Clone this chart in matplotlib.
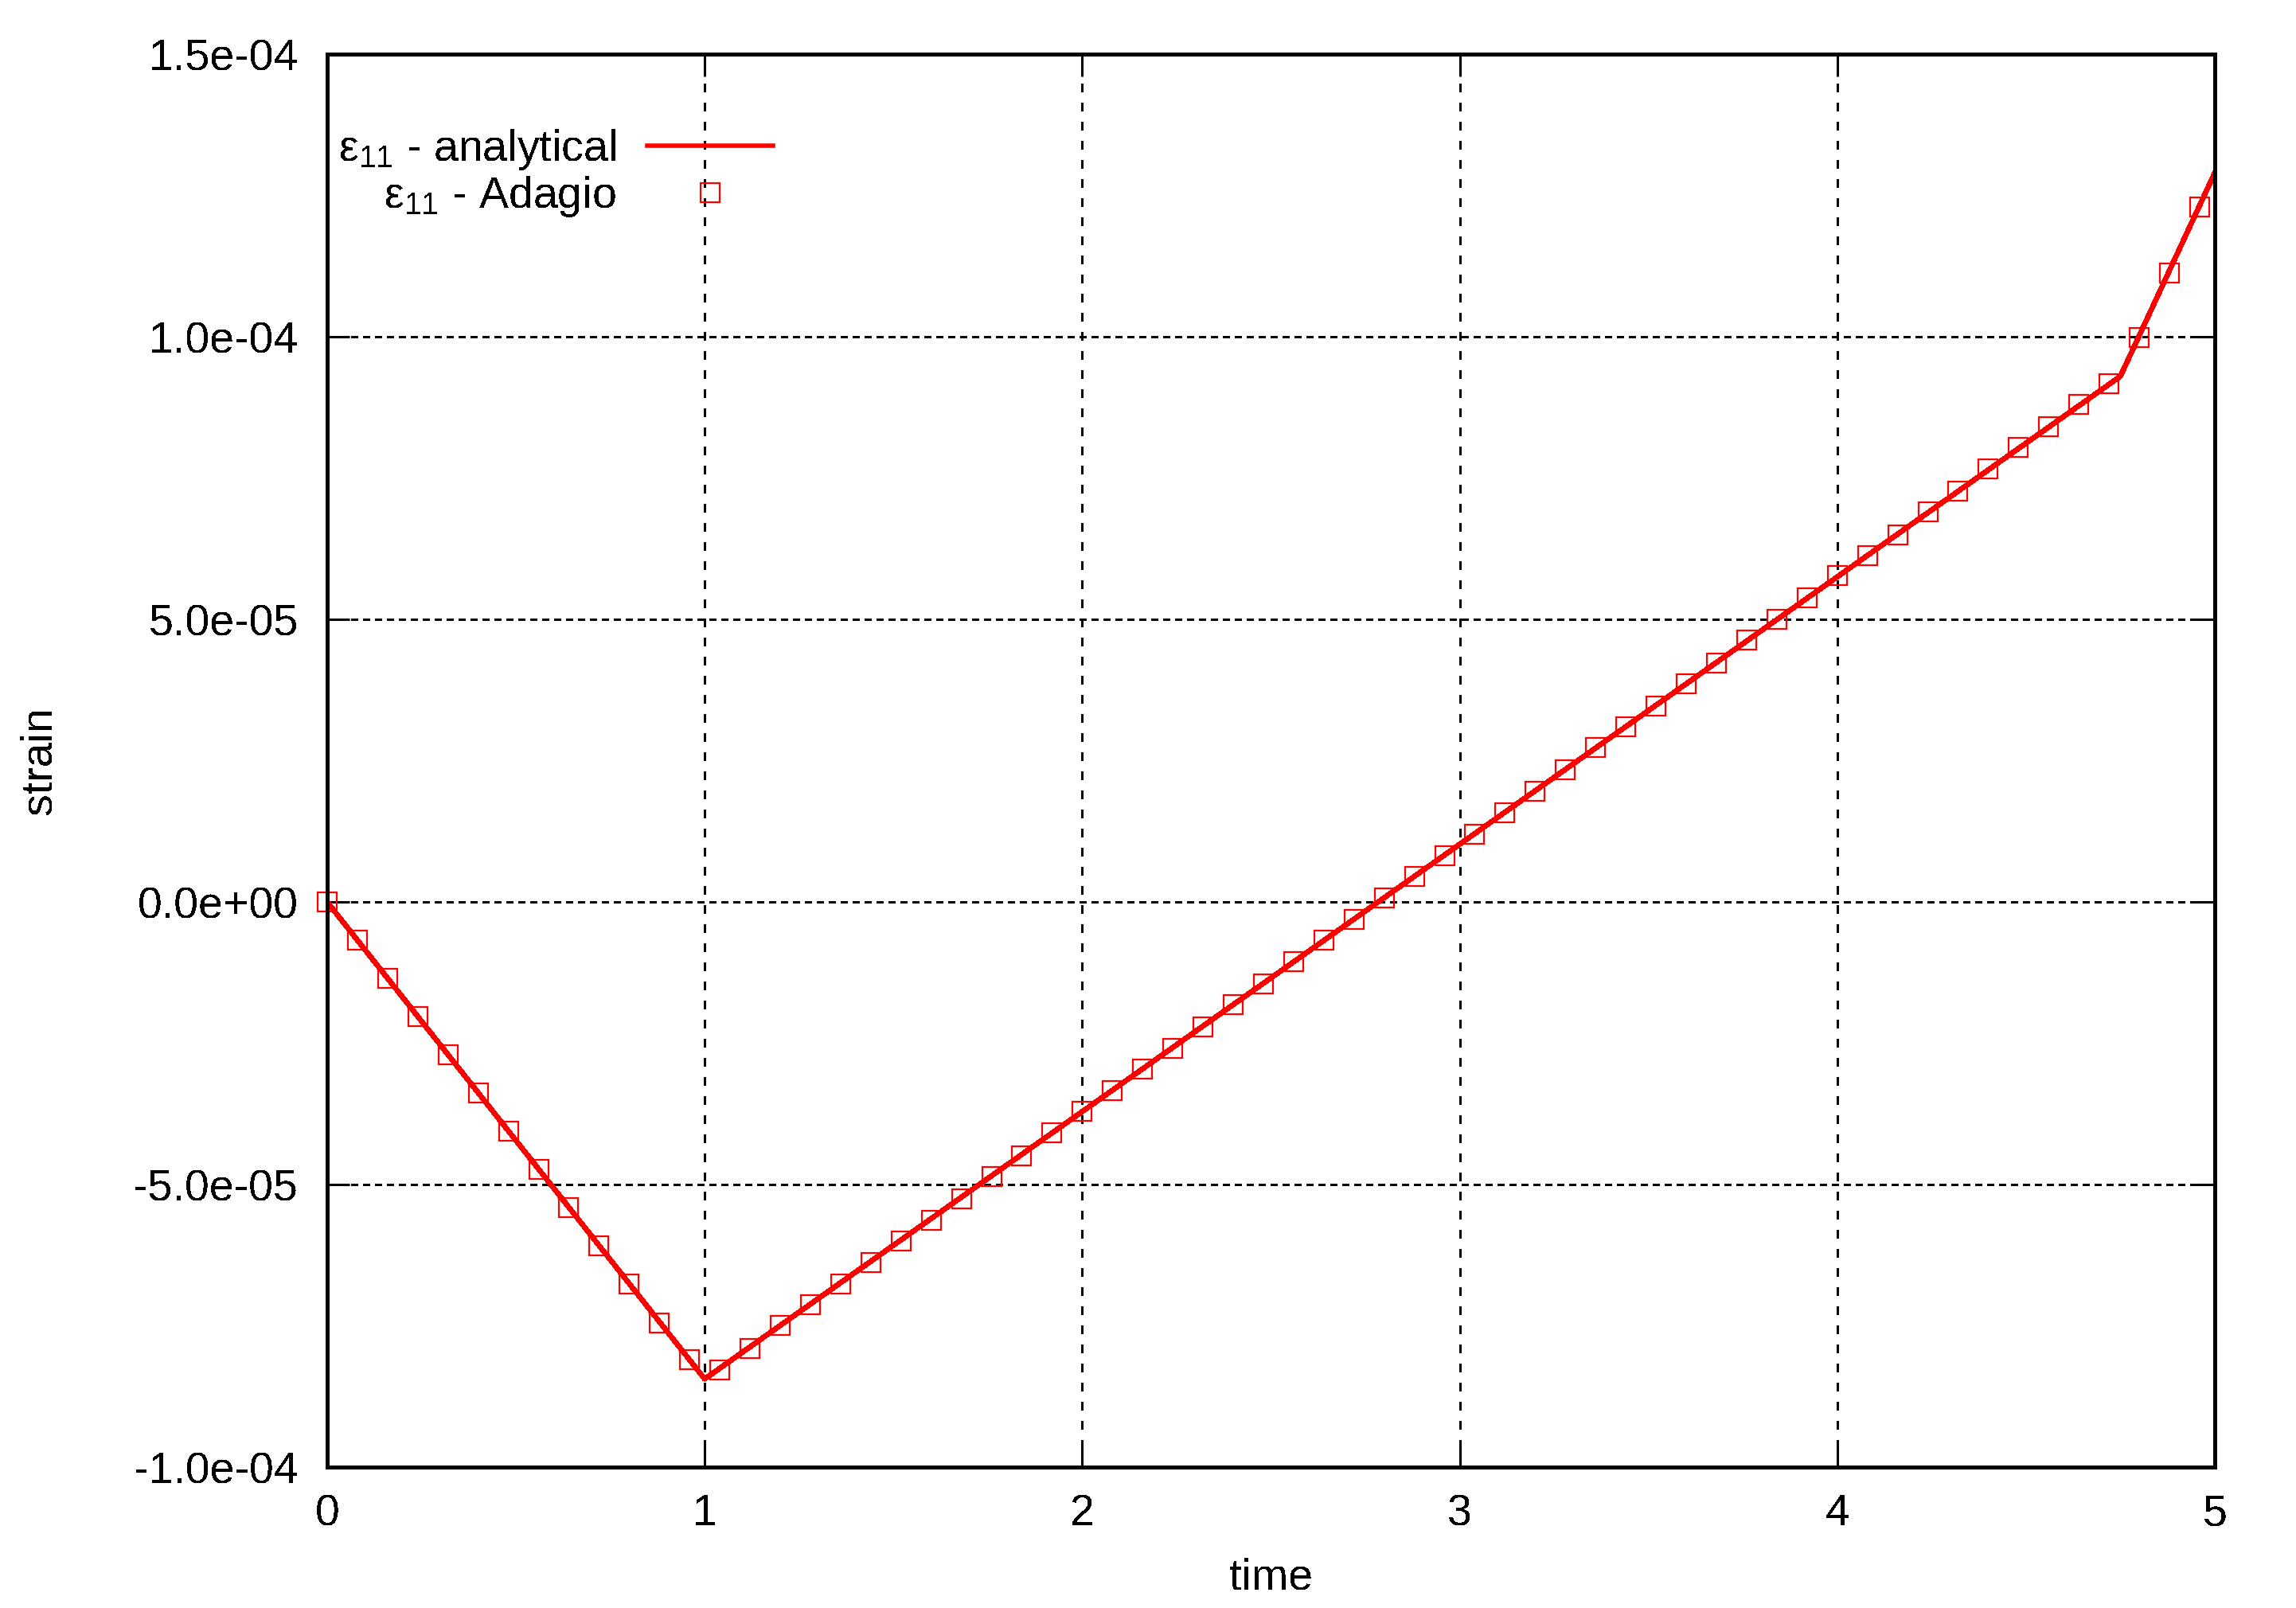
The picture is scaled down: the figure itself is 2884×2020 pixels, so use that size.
import numpy as np
import matplotlib
matplotlib.use("Agg")
import matplotlib.pyplot as plt
from matplotlib.ticker import FormatStrFormatter

plt.rcParams['font.family'] = ['Liberation Sans', 'DejaVu Sans']
plt.rcParams['font.size'] = 20
plt.rcParams['text.antialiased'] = False

# analytical solution (kinks), strain in 1e-6
t_analytical = [0.0, 1.0, 4.75, 5.0]
e11_analytical = [0.0, -84.4, 93.0, 129.0]

# Adagio output
t_adagio = [0.00, 0.08, 0.16, 0.24, 0.32, 0.40, 0.48, 0.56, 0.64, 0.72,
            0.80, 0.88, 0.96, 1.04, 1.12, 1.20, 1.28, 1.36, 1.44, 1.52,
            1.60, 1.68, 1.76, 1.84, 1.92, 2.00, 2.08, 2.16, 2.24, 2.32,
            2.40, 2.48, 2.56, 2.64, 2.72, 2.80, 2.88, 2.96, 3.04, 3.12,
            3.20, 3.28, 3.36, 3.44, 3.52, 3.60, 3.68, 3.76, 3.84, 3.92,
            4.00, 4.08, 4.16, 4.24, 4.32, 4.40, 4.48, 4.56, 4.64, 4.72,
            4.80, 4.88, 4.96]
e11_adagio = [0.0, -6.8, -13.5, -20.3, -27.0, -33.8, -40.6, -47.3, -54.1, -60.8,
              -67.6, -74.5, -81.0, -82.8, -79.0, -74.9, -71.3, -67.6, -63.8, -60.0,
              -56.3, -52.5, -48.6, -44.9, -40.8, -37.0, -33.4, -29.6, -25.9, -22.1,
              -18.2, -14.5, -10.6, -6.8, -3.1, 0.7, 4.5, 8.2, 12.0, 15.8,
              19.6, 23.4, 27.3, 31.0, 34.6, 38.6, 42.3, 46.3, 50.0, 53.8,
              57.7, 61.3, 64.9, 69.0, 72.7, 76.6, 80.4, 84.1, 88.0, 91.7,
              99.9, 111.3, 123.0]

x_ticks = [0, 1, 2, 3, 4, 5]
y_ticks = [-1.0e-4, -5.0e-5, 0.0, 5.0e-5, 1.0e-4, 1.5e-4]

fig = plt.figure(figsize=(14.42, 10.10), dpi=200)
ax = fig.add_axes([0.1425, 0.0876, 0.8221, 0.8787])

scale = 1e-6
ax.plot(t_analytical, np.array(e11_analytical) * scale, '-', color='#ff0000',
        lw=2.0, antialiased=False, label=r'$\mathregular{ε_{11}}$ - analytical')
ax.plot(t_adagio, np.array(e11_adagio) * scale, 's', color='#ff0000',
        mfc='none', mec='#ff0000', ms=8.6, mew=0.8, antialiased=False,
        clip_on=False, label=r'$\mathregular{ε_{11}}$ - Adagio')

ax.set_xlim(0, 5)
ax.set_ylim(-1.0e-4, 1.5e-4)
ax.set_xticks(x_ticks)
ax.set_yticks(y_ticks)
ax.yaxis.set_major_formatter(FormatStrFormatter('%.1e'))
ax.tick_params(direction='in', length=10, width=1.1, top=True, right=True,
               pad=13, labelsize=20)
ax.tick_params(axis='x', pad=12)
for s in ax.spines.values():
    s.set_linewidth(1.1)
    s.set_antialiased(False)

# gnuplot-like grid: dashed horizontals, dotted verticals
for yv in y_ticks[1:-1]:
    ax.axhline(yv, color='black', lw=1.0, dashes=(2.9, 2.2), antialiased=False, zorder=0)
for xv in x_ticks[1:-1]:
    ax.axvline(xv, color='black', lw=1.0, dashes=(3.6, 4.7), antialiased=False, zorder=0)

ax.set_xlabel('time', labelpad=10)
ax.set_ylabel('strain', labelpad=33)

leg = ax.legend(loc='upper left', bbox_to_anchor=(0.006, 0.948), frameon=False,
                markerfirst=False, handlelength=2.85, handletextpad=0.7,
                borderpad=0, borderaxespad=0, labelspacing=0.05, fontsize=20)
for col in leg._legend_handle_box.get_children():
    col.align = 'right'

fig.savefig('out.png', dpi=200)
